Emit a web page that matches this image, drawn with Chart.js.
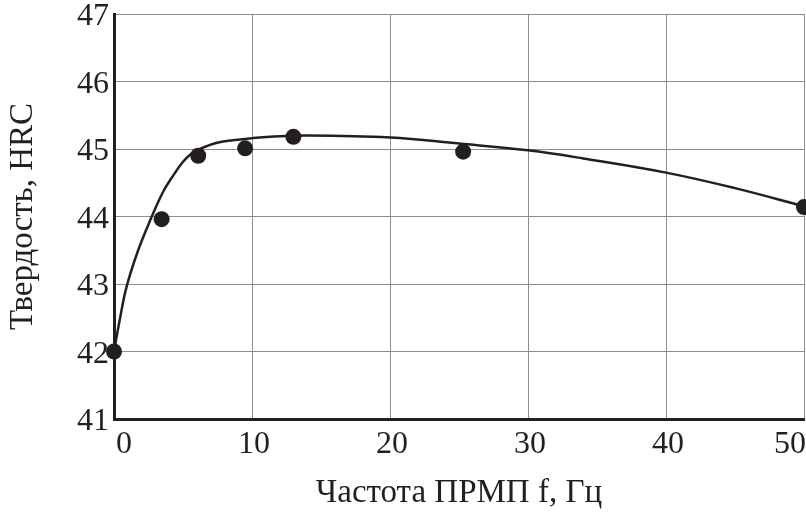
<!DOCTYPE html>
<html>
<head>
<meta charset="utf-8">
<script src="https://cdn.jsdelivr.net/npm/chart.js@4"></script>
<style>
  html, body { margin: 0; padding: 0; background: #ffffff; }
  #wrap { width: 806px; height: 513px; position: relative; }
</style>
</head>
<body>
<div id="wrap"><canvas id="c" width="806" height="513"></canvas></div>
<script>
// Measured points
const pointX = [0, 3.45, 6.1, 9.5, 13.0, 25.3, 50];
const pointY = [42, 43.96, 44.9, 45.01, 45.18, 44.96, 44.14];
// Fitted curve
const curveX = [0, 0.4, 0.9, 1.75, 2.7, 3.57, 4.3, 5.0, 5.6, 6.2, 7.4, 8.6, 10, 11.3, 14, 20, 25, 30, 34, 40, 45, 50];
const curveY = [42, 42.45, 42.95, 43.5, 43.98, 44.37, 44.61, 44.81, 44.93, 45.0, 45.09, 45.13, 45.16, 45.18, 45.2, 45.17, 45.08, 44.98, 44.86, 44.65, 44.42, 44.15];
// Axes
const xTicks = [0, 10, 20, 30, 40, 50];
const yTicks = [41, 42, 43, 44, 45, 46, 47];
const xTitle = 'Частота ПРМП f, Гц';
const yTitle = 'Твердость, HRC';

const toXY = (xs, ys) => xs.map((x, i) => ({ x: x, y: ys[i] }));

const ink = '#231f20';
const gridCol = '#8e8e8e';
const fontFamily = '"Liberation Serif", "Times New Roman", serif';

new Chart(document.getElementById('c'), {
  type: 'scatter',
  data: {
    datasets: [
      {
        data: toXY(curveX, curveY),
        showLine: true,
        borderColor: ink,
        borderWidth: 2.5,
        pointRadius: 0,
        tension: 0.4,
        fill: false,
        clip: false,
        order: 2
      },
      {
        data: toXY(pointX, pointY),
        showLine: false,
        pointRadius: 8,
        pointBackgroundColor: ink,
        pointBorderColor: ink,
        pointBorderWidth: 0,
        clip: false,
        order: 1
      }
    ]
  },
  options: {
    responsive: false,
    animation: false,
    devicePixelRatio: 1,
    layout: { autoPadding: false, padding: { top: 14, right: 2, left: 0, bottom: 0 } },
    plugins: { legend: { display: false }, tooltip: { enabled: false } },
    scales: {
      x: {
        type: 'linear',
        min: xTicks[0],
        max: xTicks[xTicks.length - 1],
        afterBuildTicks: (s) => { s.ticks = xTicks.map(v => ({ value: v })); },
        afterFit: (s) => { s.height = 94; s.paddingLeft = 0; s.paddingRight = 0; },
        grid: { color: gridCol, lineWidth: 1, drawTicks: false },
        border: { color: ink, width: 3 },
        ticks: {
          color: ink,
          font: { family: fontFamily, size: 32 },
          padding: 6,
          align: 'inner',
          labelOffset: 2,
          maxRotation: 0,
          autoSkip: false
        },
        title: {
          display: true,
          text: xTitle,
          color: ink,
          font: { family: fontFamily, size: 33 },
          padding: { top: 0, bottom: 0 }
        }
      },
      y: {
        type: 'linear',
        min: yTicks[0],
        max: yTicks[yTicks.length - 1],
        afterBuildTicks: (s) => { s.ticks = yTicks.map(v => ({ value: v })); },
        afterFit: (s) => { s.width = 114; s.paddingTop = 0; s.paddingBottom = 0; },
        grid: { color: gridCol, lineWidth: 1, drawTicks: false },
        border: { color: ink, width: 3 },
        ticks: {
          color: ink,
          font: { family: fontFamily, size: 32 },
          padding: 5,
          labelOffset: 3,
          autoSkip: false
        },
        title: {
          display: true,
          text: yTitle,
          color: ink,
          font: { family: fontFamily, size: 33 },
          padding: { top: 4, bottom: 0 }
        }
      }
    }
  }
});
</script>
</body>
</html>
